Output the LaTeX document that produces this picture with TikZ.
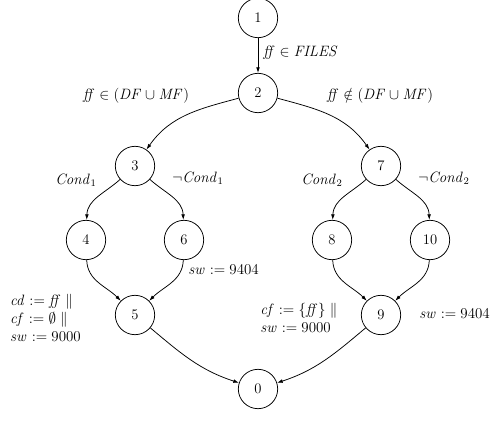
\documentclass[tikz,border=0pt]{standalone}
\usetikzlibrary{arrows.meta}
\tikzset{
  st/.style={circle,draw,line width=0.6pt,minimum size=31.5pt,inner sep=0pt},
  arr/.style={-{Latex[length=4.5pt,width=3pt]},line width=0.6pt},
  lbl/.style={inner sep=0pt}
}
\begin{document}
\begin{tikzpicture}[x=0.8pt,y=-0.8pt,font=\fontsize{11.7}{14.4}\selectfont]
\useasboundingbox (0,0) rectangle (491,434);
\node[st] (n1) at (258,18) {1};
\node[st] (n2) at (258,93) {2};
\node[st] (n3) at (135,166) {3};
\node[st] (n7) at (381,166) {7};
\node[st] (n4) at (86,240) {4};
\node[st] (n6) at (184,240) {6};
\node[st] (n8) at (332,240) {8};
\node[st] (n10) at (430,240) {10};
\node[st] (n5) at (135,315) {5};
\node[st] (n9) at (381,315) {9};
\node[st] (n0) at (258,389) {0};

\draw[arr] (n1) -- (n2);
\draw[arr] (n2) to[out=195,in=55] (n3);
\draw[arr] (n2) to[out=-15,in=125] (n7);
\draw[arr] (n3) to[out=222,in=88] (n4);
\draw[arr] (n3) to[out=-42,in=92] (n6);
\draw[arr] (n7) to[out=222,in=88] (n8);
\draw[arr] (n7) to[out=-42,in=92] (n10);
\draw[arr] (n4) to[out=-88,in=135] (n5);
\draw[arr] (n6) to[out=-92,in=45] (n5);
\draw[arr] (n8) to[out=-88,in=135] (n9);
\draw[arr] (n10) to[out=-92,in=45] (n9);
\draw[arr] (n5) to[out=-40,in=162] (n0);
\draw[arr] (n9) to[out=220,in=18] (n0);

\node[lbl,anchor=west] (l12) at (263,53) {$\mathit{ff}\in\mathit{FILES}$};
\node[lbl] (l23) at (136,96) {$\mathit{ff}\in(\mathit{DF}\cup\mathit{MF})$};
\node[lbl] (l27) at (380,96) {$\mathit{ff}\notin(\mathit{DF}\cup\mathit{MF})$};
\node[lbl] (l34) at (76,180) {$\mathit{Cond}_1$};
\node[lbl] (l36) at (198,178) {$\neg\mathit{Cond}_1$};
\node[lbl] (l78) at (322,180) {$\mathit{Cond}_2$};
\node[lbl] (l710) at (444,178) {$\neg\mathit{Cond}_2$};
\node[lbl,anchor=west] (l65) at (188,270) {$\mathit{sw}:=9404$};
\node[lbl,anchor=west] (l109) at (419,314) {$\mathit{sw}:=9404$};
\node[lbl,anchor=west,align=left] (l45) at (10,318) {$\mathit{cd}:=\mathit{ff}\;\|$\\$\mathit{cf}:=\emptyset\;\|$\\$\mathit{sw}:=9000$};
\node[lbl,anchor=west,align=left] (l89) at (260,318) {$\mathit{cf}:=\{\mathit{ff}\}\;\|$\\$\mathit{sw}:=9000$};
\end{tikzpicture}
\end{document}
